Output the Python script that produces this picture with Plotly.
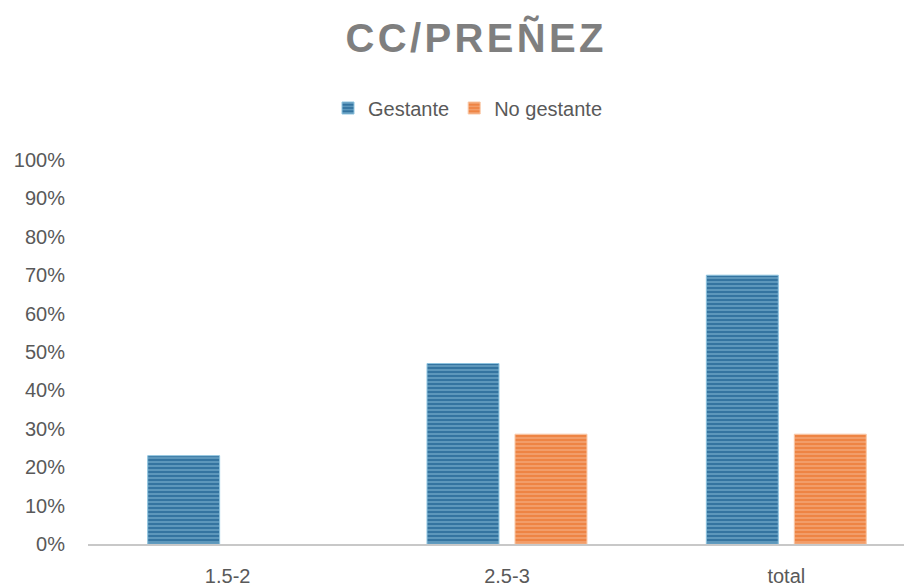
import plotly.graph_objects as go

categories = ["1.5-2", "2.5-3", "total"]
gestante = [0.23, 0.47, 0.70]
no_gestante = [None, 0.286, 0.286]
series_names = ["Gestante", "No gestante"]
y_ticks = [i / 10 for i in range(11)]
y_tick_labels = [f"{i*10}%" for i in range(11)]

fig = go.Figure()
fig.add_trace(go.Bar(
    x=categories, y=gestante, name=series_names[0],
    marker=dict(color="#3474A0", line=dict(color="#8FC4DF", width=1),
                pattern=dict(shape="-", fgcolor="#8DC1DC", bgcolor="#3474A0",
                             size=4, solidity=0.45, fillmode="overlay")),
))
fig.add_trace(go.Bar(
    x=categories, y=no_gestante, name=series_names[1],
    marker=dict(color="#EE8444", line=dict(color="#F9C9A8", width=1),
                pattern=dict(shape="-", fgcolor="#F8BE98", bgcolor="#EE8444",
                             size=4, solidity=0.45, fillmode="overlay")),
))

title_text = "\u200a".join("CC/PREÑEZ")

# page body has an 8px default margin, so the figure is 904x578
W, H = 904, 578
L, T, B = 80, 152, 42
plot_h = H - T - B

fig.update_layout(
    width=W, height=H,
    paper_bgcolor="white", plot_bgcolor="white",
    margin=dict(l=L, r=0, t=T, b=B, autoexpand=False),
    barmode="group", bargap=0.37, bargroupgap=0.182,
    title=dict(text=title_text, x=466.5 / W, xanchor="center", y=1 - 30 / H, yanchor="middle",
               font=dict(family="Liberation Sans", size=40, color="#7F7F7F", weight="bold")),
    legend=dict(orientation="h", x=(460 - L) / (W - L), xanchor="center",
                y=(T + plot_h - 100) / plot_h, yanchor="middle",
                font=dict(family="Liberation Sans", size=20, color="#595959"),
                traceorder="normal", itemwidth=30),
    font=dict(family="Liberation Sans", color="#595959"),
    showlegend=True,
)
fig.update_yaxes(range=[0, 1], tickvals=y_ticks, ticktext=y_tick_labels,
                 showgrid=False, zeroline=False, showline=False, automargin=False,
                 tickfont=dict(size=20, color="#595959"), ticklabelstandoff=22)
fig.update_xaxes(range=[-0.5, 2.45], showgrid=False, showline=True, automargin=False,
                 linecolor="#C8C8C8", linewidth=2, ticks="",
                 tickfont=dict(size=20, color="#595959"), ticklabelstandoff=13)

fig.write_html("out.html")
